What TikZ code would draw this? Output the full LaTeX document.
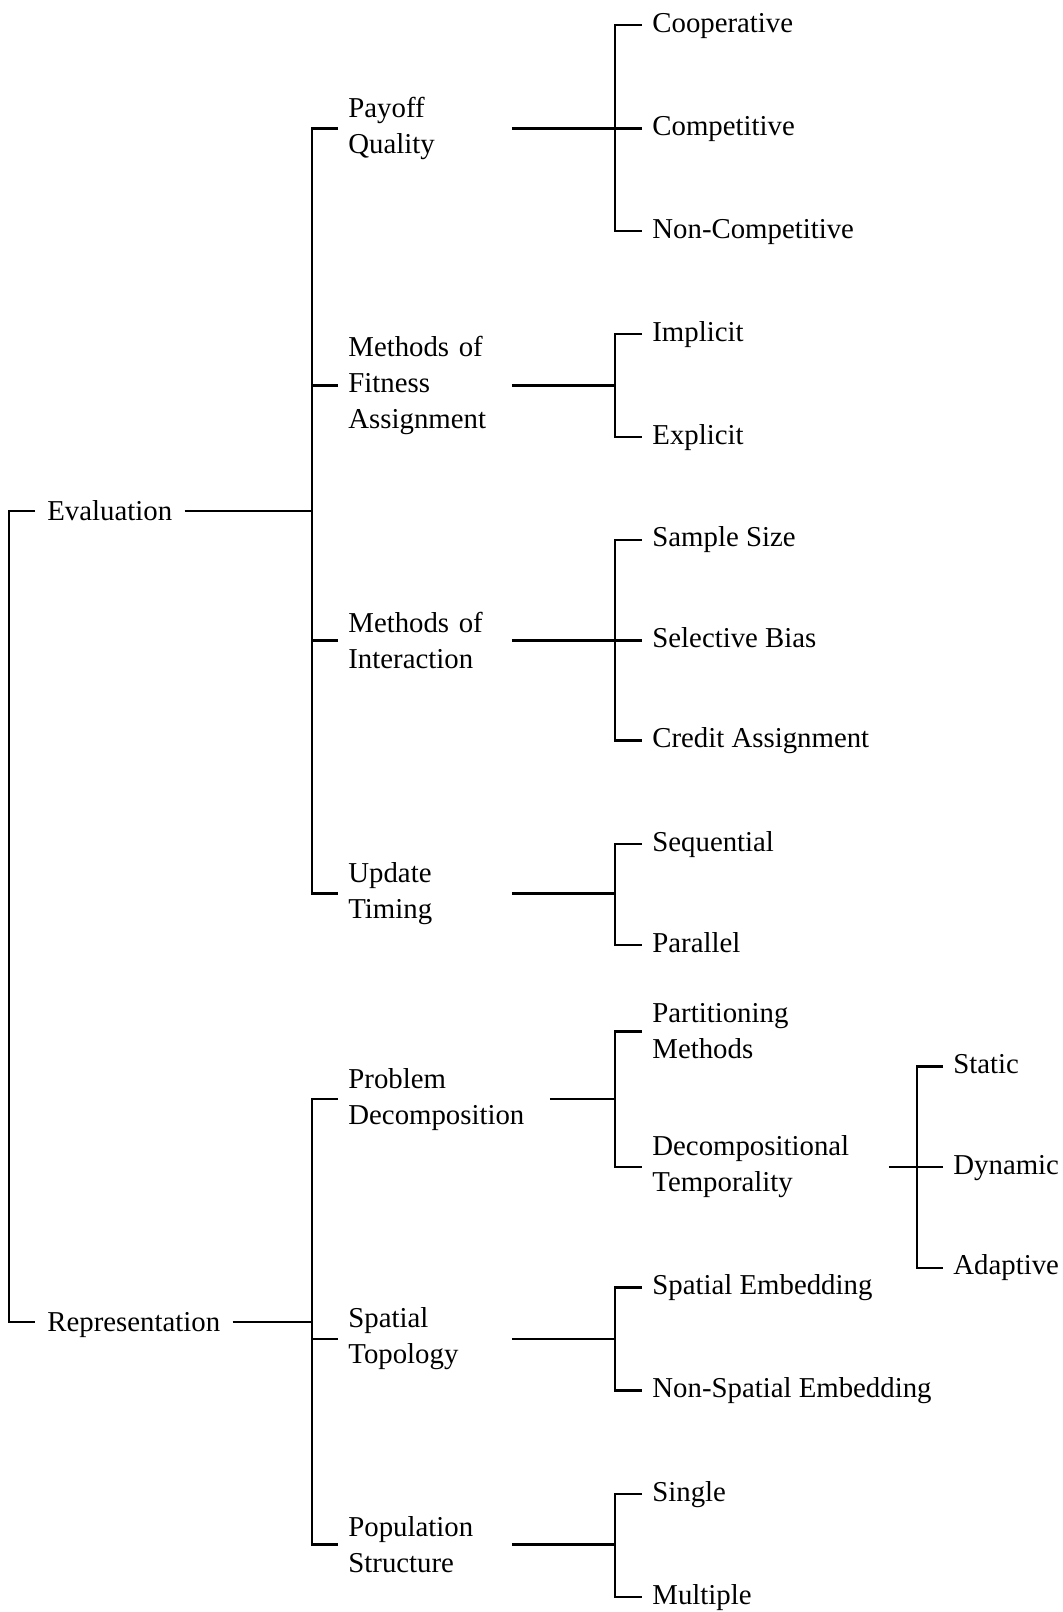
\documentclass[tikz,border=0pt]{standalone}
\usepackage{fontspec}
\setmainfont{Liberation Serif}
\usepackage{tikz}
\tikzset{
    branch/.style={line width=1.2pt},
    label/.style={anchor=west, inner ysep=0pt, font=\fontsize{14.4pt}{18pt}\selectfont},
    oneline/.style={text height=9.5pt, text depth=0pt}
}

\begin{document}
\begin{tikzpicture}[
    x=0.5pt, y=-0.5pt,
    root/.style={
        label,
        oneline,
        inner xsep=6pt
    },
    group/.style={
        label,
        align=left,
        inner xsep=5pt,
        text width=76.5pt
    },
    item/.style={
        label,
        oneline,
        text depth=2.5pt,
        inner xsep=5pt
    },
    pair/.style={
        label,
        align=left,
        inner xsep=5pt
    }
    ]
    \useasboundingbox (0,0) rectangle (1063,1612);

    % bar positions
    \coordinate (bar0) at (9,0);
    \coordinate (bar1) at (312,0);
    \coordinate (bar2) at (615,0);
    \coordinate (bar3) at (917,0);

    % roots
    \node[root] (eval) at (35,511) {Evaluation};
    \node[root] (rep) at (35,1322) {Representation};

    % evaluation groups
    \node[group] (payoff) at (338,128.5) {Payoff\\Quality};
    \node[group] (fitness) at (338,385.6) {Methods of\\Fitness\\Assignment};
    \node[group] (interact) at (338,640.6) {Methods of\\Interaction};
    \node[group] (timing) at (338,893.6) {Update\\Timing};

    % representation groups
    \node[group, text width=95.5pt] (decomp) at (338,1099.2) {Problem\\Decomposition};
    \node[group] (topology) at (338,1338.8) {Spatial\\Topology};
    \node[group] (popstruct) at (338,1544.5) {Population\\Structure};

    % payoff quality
    \node[item] (coop) at (642,25) {Cooperative};
    \node[item] (comp) at (642,128.5) {Competitive};
    \node[item] (noncomp) at (642,231) {Non-Competitive};

    % fitness assignment
    \node[item] (implicit) at (642,334.2) {Implicit};
    \node[item] (explicit) at (642,437) {Explicit};

    % interaction
    \node[item] (sample) at (642,539.9) {Sample Size};
    \node[item] (bias) at (642,640.6) {Selective Bias};
    \node[item] (credit) at (642,740.4) {Credit Assignment};

    % update timing
    \node[item] (sequential) at (642,844.2) {Sequential};
    \node[item] (parallel) at (642,945) {Parallel};

    % problem decomposition
    \node[pair] (partition) at (642,1031.4) {Partitioning\\Methods};
    \node[pair, text width=113pt] (temporal) at (642,1167.1) {Decompositional\\Temporality};

    % decompositional temporality
    \node[item] (static) at (943,1066.4) {Static};
    \node[item] (dynamic) at (943,1167.1) {Dynamic};
    \node[item] (adaptive) at (943,1267.9) {Adaptive};

    % spatial topology
    \node[item] (spatial) at (642,1287.4) {Spatial Embedding};
    \node[item] (nonspatial) at (642,1390.3) {Non-Spatial Embedding};

    % population structure
    \node[item] (single) at (642,1494) {Single};
    \node[item] (multiple) at (642,1597) {Multiple};

    % root bracket
    \draw[branch] (eval.west) -- (eval.west -| bar0) -- (rep.west -| bar0) -- (rep.west);

    % evaluation bracket
    \draw[branch] (eval.east) -- (eval.east -| bar1);
    \draw[branch] (payoff.west) -- (payoff.west -| bar1) -- (timing.west -| bar1) -- (timing.west);
    \foreach \n in {fitness,interact}
        \draw[branch] (\n.west) -- (\n.west -| bar1);

    % representation bracket
    \draw[branch] (rep.east) -- (rep.east -| bar1);
    \draw[branch] (decomp.west) -- (decomp.west -| bar1) -- (popstruct.west -| bar1) -- (popstruct.west);
    \draw[branch] (topology.west) -- (topology.west -| bar1);

    % second level brackets
    \foreach \p/\a/\b in {payoff/coop/noncomp, fitness/implicit/explicit,
        interact/sample/credit, timing/sequential/parallel, decomp/partition/temporal,
        topology/spatial/nonspatial, popstruct/single/multiple} {
        \draw[branch] (\p.east) -- (\p.east -| bar2);
        \draw[branch] (\a.west) -- (\a.west -| bar2) -- (\b.west -| bar2) -- (\b.west);
    }
    \foreach \n in {comp,bias}
        \draw[branch] (\n.west) -- (\n.west -| bar2);

    % third level bracket
    \draw[branch] (temporal.east) -- (temporal.east -| bar3);
    \draw[branch] (static.west) -- (static.west -| bar3) -- (adaptive.west -| bar3) -- (adaptive.west);
    \draw[branch] (dynamic.west) -- (dynamic.west -| bar3);
\end{tikzpicture}
\end{document}
